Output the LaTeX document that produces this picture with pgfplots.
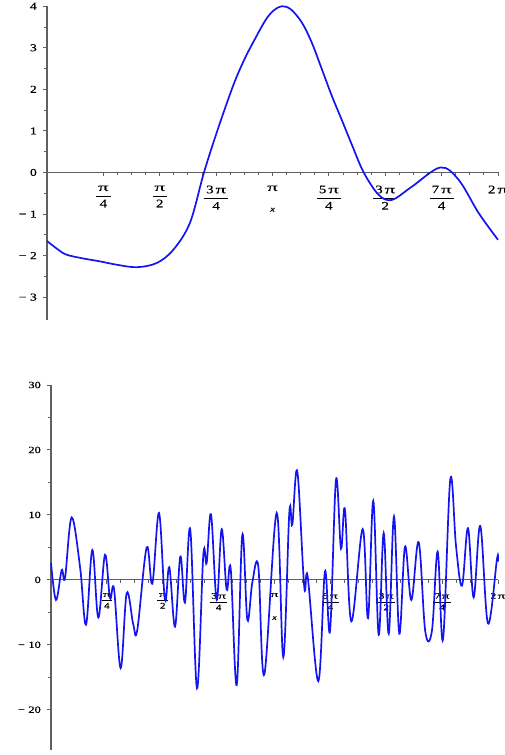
\documentclass[border=0pt]{standalone}
\usepackage{fontspec}
\setmainfont{Liberation Serif}[FakeStretch=1.3,FakeBold=0.6]
\usepackage{graphicx}
\usepackage{pgfplots}
\pgfplotsset{compat=1.18}
\definecolor{curve}{RGB}{20,20,240}
\definecolor{axgray}{RGB}{95,95,95}
\newcommand\PI{\scalebox{1.4}[1]{π}}
\newcommand\fr[2]{$\displaystyle\frac{\mbox{\,#1\,}}{\mbox{#2}}$}
\newcommand\mn{−\hspace{3.5pt}}
\pgfplotsset{
  maple/.style={
    scale only axis,
    axis x line=middle, axis y line=left,
    axis line style={-, axgray, line width=1.3pt},
    xmin=0, xmax=6.28319,
    xtick={0.785398,1.570796,2.356194,3.141593,3.926991,4.712389,5.497787,6.283185},
    minor x tick num=3,
    major tick style={axgray, line width=0.9pt},
    minor tick style={axgray, line width=0.9pt},
    tick align=outside,
    x tick style={/pgfplots/major tick length=4pt,/pgfplots/minor tick length=3pt},
    yticklabel style={anchor=east, inner sep=0pt, xshift=-6pt},
    xticklabel style={anchor=north, inner sep=0pt},
    clip=false,
  }
}
\begin{document}
\begin{tikzpicture}[x=1pt,y=1pt]
\useasboundingbox (0,0) rectangle (504,755);
\begin{axis}[maple,
  at={(47pt,435pt)}, anchor=south west,
  width=451pt, height=313.8pt,
  ymin=-3.55, ymax=4,
  ytick={-3,-2,-1,0,1,2,3,4},
  yticklabels={\mn3,\mn2,\mn1,0,1,2,3,4},
  minor y tick num=1,
  major tick length=4pt, minor tick length=3pt,
  yticklabel style={font=\fontsize{10.5}{11}\selectfont},
  xticklabels={\fr{\PI}{4},\fr{\PI}{2},\fr{3\,\PI}{4},\PI,\fr{5\,\PI}{4},\fr{3\,\PI}{2},\fr{7\,\PI}{4},2\,\PI},
  xticklabel style={font=\fontsize{11.5}{12}\selectfont, yshift=-9pt},
  xlabel={\itshape x},
  xlabel style={at={(axis cs:3.1416,0)}, anchor=north, yshift=-32pt, font=\fontsize{8}{9}\selectfont},
]
\addplot[curve, line width=1.7pt, smooth, tension=0.55] coordinates {
(0,-1.65) (0.158,-1.86) (0.274,-1.98) (0.506,-2.07) (0.738,-2.14) (0.971,-2.22)
(1.25,-2.28) (1.528,-2.18) (1.76,-1.86) (1.992,-1.21) (2.187,0) (2.382,1.05) (2.596,2.1)
(2.75,2.72) (2.90,3.22) (3.05,3.68) (3.16,3.9) (3.274,4.0) (3.40,3.92) (3.553,3.6)
(3.692,3.11) (3.83,2.48) (3.971,1.83) (4.11,1.25) (4.249,0.66) (4.412,0)
(4.621,-0.54) (4.807,-0.66) (5.085,-0.34) (5.48,0.12)
(5.736,-0.18) (6.015,-0.98) (6.283,-1.62)
};
\end{axis}
\begin{axis}[maple,
  at={(51pt,5pt)}, anchor=south west,
  width=447pt, height=365pt,
  ymin=-26.2, ymax=30,
  ytick={-20,-10,0,10,20,30},
  yticklabels={\mn20,\mn10,0,10,20,30},
  minor y tick num=1,
  major tick length=4pt, minor tick length=3pt,
  yticklabel style={font=\fontsize{9.5}{10}\selectfont},
  xticklabels={\fr{\PI}{4},\fr{\PI}{2},\fr{3\,\PI}{4},\PI,\fr{5\,\PI}{4},\fr{3\,\PI}{2},\fr{7\,\PI}{4},2\,\PI},
  xticklabel style={font=\fontsize{8.5}{9}\selectfont, yshift=-9pt},
  xlabel={\itshape x},
  xlabel style={at={(axis cs:3.1416,0)}, anchor=north, yshift=-33pt, font=\fontsize{7.5}{8}\selectfont},
]
\addplot[curve, line width=1.7pt, smooth, tension=0.6] coordinates {
(0.000,2.6) (0.070,-3.1) (0.150,1.5) (0.197,0.3) (0.290,9.6) (0.408,2.0)
(0.492,-6.9) (0.581,4.6) (0.665,-5.8) (0.759,3.85) (0.829,-2.8) (0.886,-1.4)
(0.979,-13.6) (1.064,-2.05) (1.157,-6.9) (1.213,-7.7) (1.345,5.0) (1.424,-0.6)
(1.518,10.3) (1.602,-3.1) (1.663,1.95) (1.743,-7.2) (1.818,3.6) (1.883,-3.5)
(1.958,7.7) (2.052,-16.7) (2.141,3.85) (2.188,2.6) (2.249,10.1) (2.329,-3.1)
(2.399,7.8) (2.469,-1.5) (2.526,1.7) (2.610,-16.2) (2.689,6.9) (2.760,-6.15)
(2.830,-0.4) (2.914,2.05) (2.998,-14.6) (3.172,10.3) (3.265,-11.9) (3.350,10.4)
(3.392,8.5) (3.462,16.7) (3.560,-1.1) (3.608,0.5) (3.757,-15.6) (3.851,1.3)
(3.922,-7.85) (4.006,15.4) (4.076,4.8) (4.132,10.8) (4.221,-6.4) (4.381,7.8)
(4.456,-5.9) (4.530,12.15) (4.606,-8.46) (4.676,7.2) (4.747,-8.3) (4.821,9.75)
(4.896,-8.3) (4.976,5.1) (5.065,-3.1) (5.168,5.8) (5.261,-7.95) (5.355,-7.8)
(5.435,4.36) (5.510,-9.2) (5.613,15.5) (5.693,5.2) (5.777,-0.9) (5.861,7.95)
(5.941,-2.7) (6.034,8.3) (6.142,-6.7) (6.269,3.2) (6.283,2.8)
};
\end{axis}
\end{tikzpicture}
\end{document}
